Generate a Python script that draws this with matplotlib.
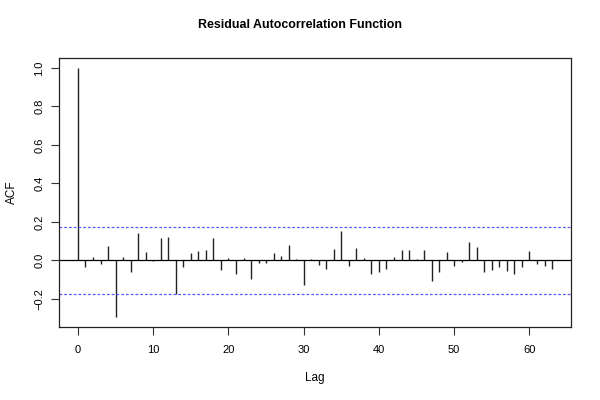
import matplotlib
matplotlib.use("Agg")
import matplotlib.pyplot as plt
import numpy as np

lags = list(range(64))
acf_values = [1.0, -0.037, 0.016, -0.021, 0.075, -0.295, 0.016, -0.059, 0.143, 0.045,
              -0.004, 0.115, 0.119, -0.173, -0.033, 0.040, 0.049, 0.054, 0.117, -0.052,
              0.010, -0.073, 0.012, -0.099, -0.014, -0.014, 0.038, 0.023, 0.079, 0.005,
              -0.127, 0.007, -0.024, -0.044, 0.058, 0.154, -0.028, 0.065, 0.010, -0.072,
              -0.059, -0.045, 0.016, 0.054, 0.054, 0.007, 0.052, -0.106, -0.059, 0.045,
              -0.028, -0.007, 0.094, 0.070, -0.063, -0.052, -0.035, -0.054, -0.070, -0.037,
              0.049, -0.021, -0.028, -0.044]
conf_limit = 0.174
x_ticks = [0, 10, 20, 30, 40, 50, 60]
y_ticks = [-0.2, 0.0, 0.2, 0.4, 0.6, 0.8, 1.0]
y_tick_labels = ["\u22120.2", "0.0", "0.2", "0.4", "0.6", "0.8", "1.0"]

plt.rcParams['font.family'] = ['Liberation Sans', 'DejaVu Sans']

fig = plt.figure(figsize=(6, 4), dpi=100)
ax = fig.add_axes([59/600, 1-327/400, (571-59)/600, (327-58)/400])

ax.vlines(lags, 0, acf_values, color='#222222', linewidth=1.0)
ax.axhline(0, color='black', linewidth=0.9)
ax.axhline(conf_limit, color='#5a5aff', linewidth=0.9, linestyle=(0, (2.2, 1.6)))
ax.axhline(-conf_limit, color='#5a5aff', linewidth=0.9, linestyle=(0, (2.2, 1.6)))

xmin, xmax = 0, 63
ymin, ymax = min(min(acf_values), -conf_limit), 1.0
ax.set_xlim(xmin - 0.04*(xmax-xmin), xmax + 0.04*(xmax-xmin))
ax.set_ylim(ymin - 0.04*(ymax-ymin), ymax + 0.04*(ymax-ymin))

ax.set_xticks(x_ticks)
ax.set_yticks(y_ticks)
ax.set_yticklabels(y_tick_labels, rotation=90, va='center')
ax.tick_params(axis='both', direction='out', length=6, width=0.8, labelsize=8, color='#333333')
ax.tick_params(axis='x', pad=7)
ax.tick_params(axis='y', pad=4.5)
for s in ax.spines.values():
    s.set_linewidth(0.9)
    s.set_color('#222222')

ax.set_xlabel('Lag', fontsize=8.5, labelpad=12)
ax.set_ylabel('ACF', fontsize=8.5, labelpad=12)
fig.text(0.5, 1-25.5/400, 'Residual Autocorrelation Function', ha='center', va='center',
         fontsize=8.9, fontweight='bold')

fig.savefig('out.png', dpi=100)
